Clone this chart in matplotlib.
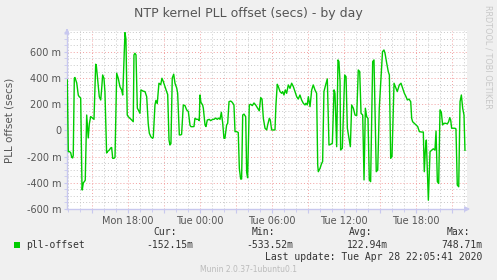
import matplotlib
matplotlib.use("Agg")
import matplotlib.pyplot as plt
from matplotlib.ticker import MultipleLocator, FuncFormatter
from matplotlib.patches import Rectangle

# ---- data (hours since Mon 00:00, offset in milliseconds) ----
hours = [12.94, 13.03, 13.11, 13.23, 13.31, 13.39, 13.44, 13.53, 13.58, 13.73, 13.86, 13.94, 14.06,
         14.17, 14.19, 14.28, 14.36, 14.44, 14.56, 14.69, 14.78, 14.89, 14.98, 15.11, 15.17, 15.31,
         15.36, 15.44, 15.61, 15.73, 15.81, 15.89, 16.00, 16.08, 16.22, 16.31, 16.44, 16.56, 16.64,
         16.73, 16.83, 16.92, 17.06, 17.19, 17.33, 17.47, 17.56, 17.61, 17.75, 17.83, 17.94, 18.03,
         18.17, 18.31, 18.44, 18.50, 18.58, 18.67, 18.78, 18.86, 19.00, 19.08, 19.28, 19.42, 19.56,
         19.69, 19.78, 19.92, 20.06, 20.11, 20.25, 20.33, 20.44, 20.58, 20.73, 20.83, 20.94, 21.08,
         21.22, 21.31, 21.42, 21.50, 21.58, 21.69, 21.81, 21.92, 22.06, 22.14, 22.28, 22.39, 22.47,
         22.61, 22.75, 22.89, 23.03, 23.17, 23.25, 23.39, 23.50, 23.58, 23.72, 23.86, 23.94, 24.00,
         24.08, 24.22, 24.28, 24.42, 24.50, 24.61, 24.78, 24.89, 25.06, 25.17, 25.31, 25.44, 25.58,
         25.67, 25.78, 25.89, 26.00, 26.08, 26.22, 26.31, 26.42, 26.56, 26.69, 26.83, 26.92, 27.06,
         27.19, 27.28, 27.39, 27.47, 27.56, 27.67, 27.81, 27.89, 27.97, 28.11, 28.22, 28.36, 28.50,
         28.64, 28.81, 28.94, 29.06, 29.17, 29.28, 29.42, 29.56, 29.64, 29.78, 29.86, 29.97, 30.11,
         30.25, 30.33, 30.44, 30.53, 30.67, 30.81, 30.89, 31.00, 31.11, 31.22, 31.36, 31.50, 31.64,
         31.78, 31.92, 32.06, 32.19, 32.33, 32.47, 32.61, 32.75, 32.83, 32.94, 33.03, 33.17, 33.31,
         33.44, 33.58, 33.72, 33.81, 33.86, 34.00, 34.14, 34.22, 34.33, 34.47, 34.61, 34.75, 34.89,
         35.03, 35.17, 35.25, 35.39, 35.50, 35.58, 35.67, 35.72, 35.86, 36.06, 36.17, 36.28, 36.42,
         36.53, 36.64, 36.78, 36.92, 37.06, 37.19, 37.31, 37.42, 37.56, 37.67, 37.78, 37.89, 38.00,
         38.11, 38.22, 38.39, 38.50, 38.61, 38.69, 38.81, 38.94, 39.21, 39.33, 39.42, 39.56, 39.69,
         39.78, 39.89, 40.00, 40.17, 40.28, 40.44, 40.61, 40.75, 40.89, 41.03, 41.17, 41.28, 41.42,
         41.56, 41.64, 41.72, 41.86, 42.00, 42.14, 42.28, 42.47, 42.61, 42.69, 42.78, 42.86, 42.94,
         43.03, 43.17, 43.31, 43.44, 43.58, 43.67, 43.78, 43.89, 44.00, 44.11, 44.22, 44.33, 44.47,
         44.61, 44.72, 44.81, 44.89, 44.97, 45.11, 45.25, 45.33, 45.44, 45.56, 45.67, 45.78, 45.89,
         46.00, 46.08]
offset_ms = [386, -162, -160, -170, -205, -210, -190, 399, 405, 363, 270, 258, 248,
             -440, -455, -400, -391, -380, 118, -57, 50, 106, 100, 90, 85, 506,
             500, 424, 258, 233, 320, 424, 399, 297, -172, -160, -150, -134, -130,
             -213, -213, -205, 437, 399, 335, 310, 271, 386, 748, 700, 118, 105,
             93, 80, 67, 577, 590, 577, 170, 157, 131, 310, 300, 297, 258,
             50, -21, -50, -60, -50, 195, 230, 205, 361, 350, 399, 375, 335,
             297, 275, -73, -111, -100, 400, 430, 360, 325, 284, -34, -34, -30,
             195, 190, 157, 145, 40, 29, 29, 30, 93, 85, 85, 75, 271,
             215, 195, 170, 42, 30, 80, 85, 75, 85, 85, 95, 85, 95,
             85, 139, 60, -60, -60, 42, 55, 220, 225, 215, 195, -9, -9,
             -15, -290, -371, -371, 118, 125, 105, -320, -361, 195, 200, 190, 210,
             195, 170, 150, 251, 240, 93, 17, 4, 42, 93, 80, 4, 4,
             4, 195, 353, 335, 297, 284, 297, 271, 310, 284, 348, 322, 361,
             335, 297, 258, 240, 271, 233, 208, 195, 208, 195, 258, 182, 310,
             348, 310, 284, -264, -315, -290, -251, -238, 297, 348, 394, -111, -106,
             -98, 310, 284, -124, 539, 526, 374, -149, -136, 424, 411, 17, -60,
             -124, 195, 170, 118, 113, 462, 450, 131, 118, -378, 170, 105, 93,
             -378, -391, 526, 539, 42, -315, -302, 170, 602, 615, 590, 514, 450,
             424, -213, -200, 361, 335, 297, 348, 361, 322, 284, 258, 233, 240,
             220, 93, 67, 55, 42, 30, -9, -12, -12, -315, -150, -73, -300,
             -533, -162, -150, -140, -150, -4, -391, -405, 157, 140, 42, 55, 55,
             50, 67, 98, 80, 17, 17, 17, 12, -417, -430, 220, 271, 170,
             118, -152]

tick_hours = [18, 24, 30, 36, 42]
tick_labels = ["Mon 18:00", "Tue 00:00", "Tue 06:00", "Tue 12:00", "Tue 18:00"]

series_name = "pll-offset"
stat_names = ["Cur:", "Min:", "Avg:", "Max:"]
stat_values = ["-152.15m", "-533.52m", "122.94m", "748.71m"]
last_update = "Last update: Tue Apr 28 22:05:41 2020"
footer = "Munin 2.0.37-1ubuntu0.1"

# ---- figure ----
W, H = 497, 280
fig = plt.figure(figsize=(W / 100, H / 100), dpi=100, facecolor="#f0f0f0")
ax = fig.add_axes([67 / W, (H - 209) / H, 400 / W, (209 - 31) / H], facecolor="white")

ax.plot(hours, offset_ms, color="#00cc00", linewidth=1.0, zorder=3)

ax.set_xlim(12.92, 46.25)
ax.set_ylim(-600, 760)

ax.xaxis.set_major_locator(MultipleLocator(3))
ax.xaxis.set_minor_locator(MultipleLocator(1))
label_map = dict(zip(tick_hours, tick_labels))
ax.xaxis.set_major_formatter(FuncFormatter(lambda v, p: label_map.get(int(round(v)), "")))
ax.yaxis.set_major_locator(MultipleLocator(200))
ax.yaxis.set_minor_locator(MultipleLocator(50))
ax.yaxis.set_major_formatter(FuncFormatter(lambda v, p: "0" if abs(v) < 1e-9 else f"{int(round(v))} m"))

dot = (0, (1, 2.2))
ax.grid(which="major", color="#f2a0a0", linestyle=dot, linewidth=0.7, zorder=1)
ax.grid(which="minor", color="#c8c8c8", linestyle=dot, linewidth=0.7, zorder=0)
ax.set_axisbelow(True)

for s in ["top", "right"]:
    ax.spines[s].set_visible(False)
for s in ["left", "bottom"]:
    ax.spines[s].set_color("#c8c8ef")
    ax.spines[s].set_linewidth(1.0)

ax.tick_params(which="both", length=2, color="#c8c8ef", labelsize=7, labelcolor="#555555", pad=2)
ax.tick_params(axis="x", which="major", length=3)

# axis arrows
ax.annotate("", xy=(1.015, 0), xytext=(0.99, 0), xycoords="axes fraction",
            arrowprops=dict(arrowstyle="-|>", color="#c8c8ef", lw=1.0, mutation_scale=7))
ax.annotate("", xy=(0, 1.03), xytext=(0, 0.99), xycoords="axes fraction",
            arrowprops=dict(arrowstyle="-|>", color="#c8c8ef", lw=1.0, mutation_scale=7))

# texts
fig.text(248 / W, 1 - 14 / H, "NTP kernel PLL offset (secs) - by day", ha="center", va="center",
         fontsize=9, color="#555555")
fig.text(10 / W, 1 - 120 / H, "PLL offset (secs)", ha="center", va="center", rotation=90,
         fontsize=7.5, color="#555555")
fig.text(488 / W, 1 - 5 / H, "RRDTOOL / TOBI OETIKER", ha="center", va="top", rotation=270,
         fontsize=5.9, color="#c8c8c8")

mono = "DejaVu Sans Mono"
name_right = [177, 275, 372, 470]
val_right = [193, 293, 388, 482]
for nm, xr in zip(stat_names, name_right):
    fig.text(xr / W, 1 - 232 / H, nm, ha="right", va="center", fontsize=7, family=mono, color="#333333")
for v, xr in zip(stat_values, val_right):
    fig.text(xr / W, 1 - 245 / H, v, ha="right", va="center", fontsize=7, family=mono, color="#333333")
fig.patches.append(Rectangle((14 / W, 1 - 248 / H), 6 / W, 6 / H, transform=fig.transFigure,
                             facecolor="#00cc00", edgecolor="none"))
fig.text(26 / W, 1 - 245 / H, series_name, ha="left", va="center", fontsize=7, family=mono, color="#333333")
fig.text(482 / W, 1 - 257 / H, last_update, ha="right", va="center", fontsize=7, family=mono, color="#333333")
fig.text(248 / W, 1 - 269 / H, footer, ha="center", va="center", fontsize=5.5, color="#bbbbbb")

fig.savefig("out.png", dpi=100, facecolor=fig.get_facecolor())
